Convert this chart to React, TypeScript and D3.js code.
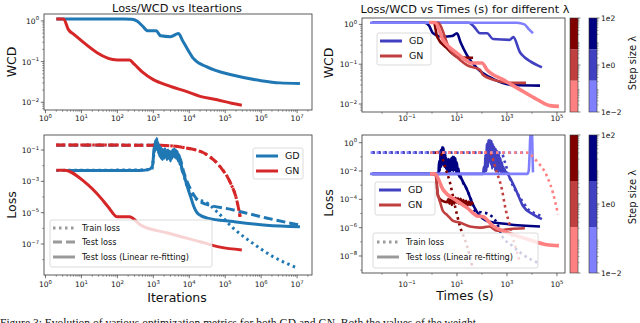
import React from 'react';
import * as d3 from 'd3';

type Pt = [number, number];

const FONT = 'DejaVu Sans, Verdana, sans-serif';

// ---------- left column: Loss/WCD vs iterations ----------
const gdWcdIter: Pt[] = [[2, 1.12], [150, 1.12], [250, 1.1], [350, 1.0], [500, 0.75], [700, 0.57], [1200, 0.57], [1600, 0.43], [3000, 0.41], [5000, 0.49], [6500, 0.33], [9000, 0.2], [13000, 0.12], [30000, 0.075], [1.7e5, 0.046], [1e6, 0.034], [3.3e6, 0.03], [1.2e7, 0.029]];
const gnWcdIter: Pt[] = [[2, 1.12], [3.2, 1.12], [4.3, 0.62], [6.3, 0.46], [100, 0.11], [215, 0.11], [300, 0.085], [500, 0.055], [1000, 0.036], [2500, 0.026], [9000, 0.018], [20000, 0.014], [60000, 0.0115], [1.5e5, 0.0095], [2.9e5, 0.0085]];

const gdRefitIter: Pt[] = [[3.4, 0.005], [450, 0.005], [800, 0.006], [950, 0.01],
  [1000, 0.03], [1050, 0.15], [1100, 0.08], [1150, 0.4], [1200, 0.12], [1250, 0.55], [1300, 0.1], [1350, 0.3], [1400, 0.06], [1450, 0.2], [1500, 0.04], [1580, 0.15], [1650, 0.03], [1730, 0.12], [1800, 0.025], [1900, 0.1], [2000, 0.03], [2100, 0.12], [2200, 0.04], [2300, 0.09], [2400, 0.025], [2550, 0.1], [2700, 0.03], [2850, 0.08], [3000, 0.02], [3150, 0.06], [3300, 0.03], [3450, 0.1], [3600, 0.04], [3800, 0.11], [4000, 0.035], [4200, 0.1], [4400, 0.03], [4650, 0.08], [4900, 0.02], [5200, 0.05], [5500, 0.012], [5800, 0.02],
  [6200, 0.006], [7000, 0.003], [8000, 0.001], [9000, 4e-4], [11000, 1e-4], [13000, 3e-5], [18000, 8e-6], [32000, 4.5e-6], [1.7e5, 2.7e-6], [1.4e6, 1.6e-6], [1.2e7, 1.25e-6]];
const gdTestIter: Pt[] = [[2, 0.2], [1000, 0.2], [1300, 0.3], [1600, 0.1], [2500, 0.08], [4000, 0.07], [5500, 0.03], [7000, 0.004], [9000, 8e-4], [13000, 1.5e-4], [20000, 5e-5], [1.7e5, 1.5e-5], [1.4e6, 4.6e-6], [1.2e7, 1.6e-6]];
const gdTrainIter: Pt[] = [[2, 0.005], [900, 0.0055], [1100, 0.1], [1500, 0.08], [3000, 0.05], [5000, 0.04], [6500, 0.005], [9000, 4e-4], [13000, 1e-4], [32000, 4e-5], [59000, 1.15e-5], [1.7e5, 1e-6], [5.9e5, 1.1e-7], [2.1e6, 1.6e-8], [1e7, 3e-9]];
const gnTestIter: Pt[] = [[2, 0.21], [1600, 0.2], [9000, 0.13], [32000, 0.048], [72000, 0.0087], [1.4e5, 8e-4], [2.1e5, 6.3e-5], [2.6e5, 5.5e-6]];
const gnTrainIter: Pt[] = [[2, 0.21], [1600, 0.2], [9000, 0.13], [32000, 0.048], [72000, 0.0087], [1.4e5, 8e-4], [2.1e5, 6.3e-5], [2.6e5, 5.5e-6]];
const gnRefitIter: Pt[] = [[2, 0.0052], [3.4, 0.0052], [12, 9.5e-4], [35, 8.5e-5], [55, 2.4e-5], [100, 5.5e-6], [215, 5.5e-6], [450, 1.6e-6], [2500, 5e-7], [20000, 1.4e-7], [72000, 6.3e-8], [2.9e5, 4.2e-8]];

// ---------- right column: Loss/WCD vs time, three step sizes ----------
const gdWcdTime1e2: Pt[] = [[0.004, 1.1], [0.5, 1.1], [0.75, 0.95], [1.1, 0.6], [2.75, 0.49], [6.3, 0.51], [10, 0.6], [14, 0.35], [25, 0.17], [63, 0.08], [275, 0.043], [1700, 0.03], [2.1e4, 0.029]];
const gdWcdTime1: Pt[] = [[0.004, 1.1], [30, 1.1], [50, 0.85], [83, 0.6], [160, 0.6], [275, 0.43], [1300, 0.41], [1800, 0.48], [3300, 0.2], [5000, 0.15], [8300, 0.12], [2.5e4, 0.083]];
const gdWcdTime1e_2: Pt[] = [[0.0033, 1.1], [2500, 1.1], [5000, 1.0], [7000, 0.8], [1.1e4, 0.6]];
const gnWcdTime1e2: Pt[] = [[1, 1.1], [1.2, 1.1], [1.6, 0.49], [4, 0.25], [10, 0.155], [17, 0.148], [44, 0.145]];
const gnWcdTime1: Pt[] = [[1.3, 1.1], [1.7, 1.1], [5.2, 0.23], [13, 0.13], [25, 0.095], [83, 0.072], [110, 0.054], [525, 0.037], [1300, 0.034], [5800, 0.034]];
const gnWcdTime1e_2: Pt[] = [[0.76, 1.12], [1.3, 1.12], [2.75, 0.41], [10, 0.19], [27, 0.117], [35, 0.107], [100, 0.107], [160, 0.072], [700, 0.041], [3300, 0.023], [1.6e4, 0.013], [5.2e4, 0.0091], [1.2e5, 0.0087]];

const gdRefitTime1e2: Pt[] = [[0.004, 0.0063], [1.8, 0.0063],
  [1.93, 0.05], [2.07, 0.01], [2.2, 0.3], [2.37, 0.02], [2.54, 0.5], [2.72, 0.03], [2.9, 0.45], [3.1, 0.02], [3.33, 0.2], [3.57, 0.015], [3.82, 0.08], [4.1, 0.01], [4.4, 0.05], [4.7, 0.008], [5.0, 0.06], [5.4, 0.01], [5.8, 0.08], [6.2, 0.012], [6.6, 0.1], [7.1, 0.01], [7.6, 0.1], [8.1, 0.012], [8.7, 0.08], [9.3, 0.008], [10, 0.04], [10.7, 0.006], [11.5, 0.015], [12.3, 0.004], [13.2, 0.005],
  [15, 0.003], [18, 0.0015], [22, 8e-4], [25, 5e-4], [40, 6e-5], [63, 1.3e-5], [160, 3e-6], [1000, 1.8e-6], [2.1e4, 1.2e-6]];
const gdTrainTime1e2: Pt[] = [[0.004, 0.2], [1.8, 0.2], [2.5, 0.4], [3.5, 0.1], [5, 0.06], [8, 0.05], [11, 0.01], [16, 0.002], [25, 5e-4], [40, 6e-5], [52, 1.5e-5], [100, 1.2e-5], [160, 1e-5], [400, 2e-6], [630, 2.7e-7], [1700, 5e-8], [4000, 1.4e-8], [2.1e4, 2.8e-9]];
const gdRefitTime1: Pt[] = [[0.004, 0.0063], [110, 0.0063],
  [120, 0.02], [129, 0.008], [138, 0.15], [148, 0.01], [158, 0.8], [170, 0.02], [182, 1.5], [195, 0.05], [209, 1.6], [224, 0.03], [240, 1.3], [257, 0.015], [275, 0.8], [295, 0.02], [316, 0.5], [339, 0.01], [363, 0.35], [389, 0.012], [417, 0.25], [447, 0.008], [479, 0.15], [513, 0.01], [550, 0.08], [589, 0.007], [631, 0.04], [676, 0.008], [724, 0.02], [776, 0.0065], [832, 0.012], [891, 0.0065], [955, 0.008],
  [1300, 0.0034], [2500, 3.2e-4], [4400, 3.4e-5], [1.1e4, 8.7e-6], [2.5e4, 4e-6]];
const gdTrainTime1: Pt[] = [[0.004, 0.2], [600, 0.2], [800, 0.05], [1300, 3e-3], [2750, 2.2e-4], [5100, 4.4e-5], [6900, 2e-5], [1.7e4, 8.7e-6], [2.5e4, 6e-6]];
const gdRefitTime1e_2: Pt[] = [[0.0033, 0.0063], [6600, 0.0063], [7400, 0.01], [8100, 0.2], [8700, 5], [10000, 5], [10600, 0.1], [11000, 0.008]];
const gdTrainTime1e_2: Pt[] = [[0.0035, 0.2], [6300, 0.2]];
const gnRefitTime1e2: Pt[] = [[1, 0.0063], [1.4, 0.0063], [1.74, 1.7e-4], [2.5, 8e-5], [4, 6.3e-5], [4.5, 1e-4], [5, 5e-5], [5.6, 1.2e-4], [6.2, 4e-5], [7, 1e-4], [7.8, 5e-5], [8.7, 1.3e-4], [9.7, 6e-5], [11, 1.2e-4], [12, 5e-5], [14, 1.1e-4], [16, 4.5e-5], [18, 9e-5], [20, 4e-5], [23, 8e-5], [26, 3.5e-5], [30, 7e-5], [34, 4e-5], [38, 6e-5], [44, 4.5e-5]];
const gnTrainTime1e2: Pt[] = [[1.3, 0.2], [2.3, 0.17], [2.75, 0.06], [3.3, 0.021], [5.2, 1.6e-3], [8.3, 3.4e-5], [13, 1.35e-6], [25, 5.4e-8], [40, 2.1e-9]];
const gnRefitTime1: Pt[] = [[1.1, 0.0063], [1.4, 0.0063], [1.6, 5e-4], [2.2, 5e-5], [2.75, 1.5e-5], [4, 8e-6], [7, 3e-6], [13, 2.3e-6], [33, 1.2e-6], [83, 1e-6], [200, 1.2e-6], [400, 6e-7], [1300, 8e-7], [5200, 9e-7]];
const gnTrainTime1: Pt[] = [[1.5, 0.2], [200, 0.2], [400, 7.2e-3], [630, 5e-4], [830, 3.4e-5], [1300, 1.35e-6], [2100, 5.4e-8], [3300, 3.7e-9]];
const gnRefitTime1e_2: Pt[] = [[0.83, 0.0063], [1.3, 0.0063], [2.75, 5e-4], [10, 7.6e-5], [25, 2.6e-5], [63, 6.8e-6], [110, 6e-6], [275, 1.35e-6], [1000, 4.6e-7], [6300, 1.6e-7], [4e4, 6.3e-8], [1.2e5, 5.4e-8]];
const gnTrainTime1e_2: Pt[] = [[0.83, 0.2], [6300, 0.2], [1.6e4, 0.047], [4e4, 4.3e-3], [6.9e4, 2.9e-4], [1.1e5, 8.7e-6]];

const stepTicks = [1e-2, 1, 1e2];
const stepTickLabels = ['1e−2', '1e0', '1e2'];

const C_GD = '#1f77b4';
const C_GN = '#d62728';
const GD_LAM = ['#000080', '#4040c0', '#8080ff'];
const GN_LAM = ['#800000', '#c04040', '#ff8080'];
const DOT = '2.5,3.5';
const DASH = '9,4';

interface Series { data: Pt[]; color: string; width: number; dash?: string }
interface Box { l: number; r: number; t: number; b: number }

const expText = (e: number) => (e < 0 ? `−${-e}` : `${e}`);

function PowLabel({ x, y, e, anchor }: { x: number; y: number; e: number; anchor: string }) {
  return (
    <text x={x} y={y} textAnchor={anchor} fontSize={7.5} fontFamily={FONT} fill="#111">
      10<tspan dy={-3.5} fontSize={5.3}>{expText(e)}</tspan>
    </text>
  );
}

function decades(dom: [number, number]) {
  return d3.range(Math.ceil(Math.log10(dom[0]) - 1e-9), Math.floor(Math.log10(dom[1]) + 1e-9) + 1);
}
function subTicks(dom: [number, number]) {
  const out: number[] = [];
  for (let k = Math.floor(Math.log10(dom[0])); k <= Math.ceil(Math.log10(dom[1])); k++) {
    for (let m = 2; m <= 9; m++) {
      const v = m * Math.pow(10, k);
      if (v > dom[0] && v < dom[1]) out.push(v);
    }
  }
  return out;
}

function Panel({ id, box, xDomain, yDomain, xLabels, yLabels, xMinor, yMinor, series, xLabelY }: {
  id: string; box: Box; xDomain: [number, number]; yDomain: [number, number];
  xLabels: number[]; yLabels: number[]; xMinor: boolean; yMinor: boolean; series: Series[]; xLabelY: number;
}) {
  const xs = d3.scaleLog().domain(xDomain).range([box.l, box.r]);
  const ys = d3.scaleLog().domain(yDomain).range([box.b, box.t]);
  const line = d3.line<Pt>().x(d => xs(d[0])).y(d => ys(d[1])).curve(d3.curveMonotoneX);
  const xDec = decades(xDomain);
  const yDec = decades(yDomain);
  return (
    <g>
      <defs>
        <clipPath id={id}><rect x={box.l} y={box.t} width={box.r - box.l} height={box.b - box.t} /></clipPath>
      </defs>
      <g clipPath={`url(#${id})`}>
        {series.map((s, i) => (
          <path key={i} d={line(s.data) || ''} fill="none" stroke={s.color} strokeWidth={s.width}
            strokeDasharray={s.dash} strokeLinejoin="round" />
        ))}
      </g>
      <rect x={box.l} y={box.t} width={box.r - box.l} height={box.b - box.t} fill="none" stroke="#333" strokeWidth={0.8} />
      {xMinor && subTicks(xDomain).map((v, i) => (
        <line key={'xm' + i} x1={xs(v)} x2={xs(v)} y1={box.b} y2={box.b + 1.8} stroke="#333" strokeWidth={0.5} />
      ))}
      {yMinor && subTicks(yDomain).map((v, i) => (
        <line key={'ym' + i} y1={ys(v)} y2={ys(v)} x1={box.l} x2={box.l - 1.8} stroke="#333" strokeWidth={0.5} />
      ))}
      {xDec.map(e => {
        const lab = xLabels.includes(e);
        const x = xs(Math.pow(10, e));
        return (
          <g key={'x' + e}>
            <line x1={x} x2={x} y1={box.b} y2={box.b + (lab ? 3.2 : 1.8)} stroke="#333" strokeWidth={lab ? 0.7 : 0.5} />
            {lab && <PowLabel x={x} y={xLabelY} e={e} anchor="middle" />}
          </g>
        );
      })}
      {yDec.map(e => {
        const lab = yLabels.includes(e);
        const y = ys(Math.pow(10, e));
        return (
          <g key={'y' + e}>
            <line y1={y} y2={y} x1={box.l} x2={box.l - (lab ? 3.2 : 1.8)} stroke="#333" strokeWidth={lab ? 0.7 : 0.5} />
            {lab && <PowLabel x={box.l - 5} y={y + 3} e={e} anchor="end" />}
          </g>
        );
      })}
    </g>
  );
}

function Colorbar({ x, t, b, colors, labels }: { x: number; t: number; b: number; colors: string[]; labels: boolean }) {
  const cs = d3.scaleLog().domain([1e-2, 1e2]).range([b, t]);
  const seg = (b - t) / colors.length;
  return (
    <g>
      {colors.map((c, i) => (
        <rect key={i} x={x} y={b - seg * (i + 1)} width={8} height={seg} fill={c} />
      ))}
      <rect x={x} y={t} width={8} height={b - t} fill="none" stroke="#333" strokeWidth={0.6} />
      {subTicks([1e-2, 1e2]).map((v, i) => (
        <line key={i} x1={x + 8} x2={x + 9.5} y1={cs(v)} y2={cs(v)} stroke="#333" strokeWidth={0.4} />
      ))}
      {stepTicks.map((v, i) => (
        <g key={'m' + i}>
          <line x1={x + 8} x2={x + 10.5} y1={cs(v)} y2={cs(v)} stroke="#333" strokeWidth={0.6} />
          {labels && (
            <text x={x + 12} y={cs(v) + 2.7} fontSize={7.5} fontFamily={FONT} fill="#111">{stepTickLabels[i]}</text>
          )}
        </g>
      ))}
    </g>
  );
}

function LegendBox({ x, y, w, h }: { x: number; y: number; w: number; h: number }) {
  return <rect x={x} y={y} width={w} height={h} rx={2} fill="#fff" fillOpacity={0.8} stroke="#ccc" strokeWidth={0.7} />;
}

function LegendRow({ x, y, color, dash, label, fs, len }: { x: number; y: number; color: string; dash?: string; label: string; fs: number; len: number }) {
  return (
    <g>
      <line x1={x} x2={x + len} y1={y} y2={y} stroke={color} strokeWidth={3} strokeDasharray={dash} />
      <text x={x + len + 7} y={y + fs * 0.36} fontSize={fs} fontFamily={FONT} fill="#111">{label}</text>
    </g>
  );
}

export default function App() {
  const L = { l: 44, r: 312 };
  const R = { l: 362, r: 565 };
  const xIter: [number, number] = [0.91, 2.6e7];
  const xTime: [number, number] = [1.58e-3, 2.1e5];

  return (
    <svg width={640} height={323} style={{ position: 'fixed', left: 0, top: 0, background: '#fff' }}>
      <rect width={640} height={323} fill="#fff" />
      {/* titles */}
      <text x={177} y={12} textAnchor="middle" fontSize={11.3} fontFamily={FONT} fill="#111">Loss/WCD vs Iteartions</text>
      <text x={465} y={13} textAnchor="middle" fontSize={11.3} fontFamily={FONT} fill="#111">Loss/WCD vs Times (s) for different λ</text>

      {/* left top */}
      <Panel id="c1" box={{ ...L, t: 14, b: 110 }} xDomain={xIter} yDomain={[0.00646, 1.48]}
        xLabels={[0, 1, 2, 3, 4, 5, 6, 7]} yLabels={[0, -1, -2]} xMinor yMinor xLabelY={121}
        series={[
          { data: gdWcdIter, color: C_GD, width: 3 },
          { data: gnWcdIter, color: C_GN, width: 3 },
        ]} />
      <text transform="translate(16,62) rotate(-90)" textAnchor="middle" fontSize={12.5} fontFamily={FONT} fill="#111">WCD</text>

      {/* left bottom */}
      <Panel id="c2" box={{ ...L, t: 135, b: 275 }} xDomain={xIter} yDomain={[1.05e-9, 0.91]}
        xLabels={[0, 1, 2, 3, 4, 5, 6, 7]} yLabels={[-1, -3, -5, -7]} xMinor yMinor={false} xLabelY={287}
        series={[
          { data: gdTrainIter, color: C_GD, width: 3, dash: DOT },
          { data: gdTestIter, color: C_GD, width: 3, dash: DASH },
          { data: gnTrainIter, color: C_GN, width: 3, dash: DOT },
          { data: gnTestIter, color: C_GN, width: 3, dash: DASH },
          { data: gdRefitIter, color: C_GD, width: 3 },
          { data: gnRefitIter, color: C_GN, width: 3 },
        ]} />
      <text transform="translate(16,205) rotate(-90)" textAnchor="middle" fontSize={12.5} fontFamily={FONT} fill="#111">Loss</text>
      <text x={177} y={302} textAnchor="middle" fontSize={12.5} fontFamily={FONT} fill="#111">Iterations</text>
      <LegendBox x={253} y={148} w={50} h={31} />
      <LegendRow x={256} y={156} color={C_GD} label="GD" fs={9.5} len={22} />
      <LegendRow x={256} y={171} color={C_GN} label="GN" fs={9.5} len={22} />
      <LegendBox x={50} y={220} w={162} h={47} />
      <LegendRow x={53} y={228} color="#9a9a9a" dash={DOT} label="Train loss" fs={8.2} len={22} />
      <LegendRow x={53} y={242} color="#9a9a9a" dash={DASH} label="Test loss" fs={8.2} len={22} />
      <LegendRow x={53} y={257} color="#9a9a9a" label="Test loss (Linear re-fitting)" fs={8.2} len={22} />

      {/* right top */}
      <Panel id="c3" box={{ ...R, t: 18, b: 112 }} xDomain={xTime} yDomain={[6.3e-3, 1.45]}
        xLabels={[-1, 1, 3, 5]} yLabels={[0, -1, -2]} xMinor={false} yMinor xLabelY={121}
        series={[
          { data: gdWcdTime1e2, color: GD_LAM[0], width: 2.6 },
          { data: gdWcdTime1, color: GD_LAM[1], width: 2.6 },
          { data: gdWcdTime1e_2, color: GD_LAM[2], width: 2.6 },
          { data: gnWcdTime1e2, color: GN_LAM[0], width: 2.6 },
          { data: gnWcdTime1, color: GN_LAM[1], width: 2.6 },
          { data: gnWcdTime1e_2, color: GN_LAM[2], width: 3.6 },
        ]} />
      <text transform="translate(333,63) rotate(-90)" textAnchor="middle" fontSize={12.5} fontFamily={FONT} fill="#111">WCD</text>
      <LegendBox x={377} y={33} w={54} h={32} />
      <LegendRow x={380} y={41} color={GD_LAM[1]} label="GD" fs={9.5} len={22} />
      <LegendRow x={380} y={56} color={GN_LAM[1]} label="GN" fs={9.5} len={22} />

      {/* right bottom */}
      <Panel id="c4" box={{ ...R, t: 135, b: 273 }} xDomain={xTime} yDomain={[6.3e-10, 3.5]}
        xLabels={[-1, 1, 3, 5]} yLabels={[0, -2, -4, -6, -8]} xMinor={false} yMinor={false} xLabelY={287}
        series={[
          { data: gdTrainTime1e2, color: GD_LAM[0], width: 2.6, dash: DOT },
          { data: gdRefitTime1e2, color: GD_LAM[0], width: 2.6 },
          { data: gdTrainTime1, color: GD_LAM[1], width: 2.6, dash: DOT },
          { data: gdRefitTime1, color: GD_LAM[1], width: 2.6 },
          { data: gdTrainTime1e_2, color: GD_LAM[2], width: 2.6, dash: DOT },
          { data: gdRefitTime1e_2, color: GD_LAM[2], width: 2.6 },
          { data: gnTrainTime1e2, color: GN_LAM[0], width: 2.6, dash: DOT },
          { data: gnRefitTime1e2, color: GN_LAM[0], width: 2.6 },
          { data: gnTrainTime1, color: GN_LAM[1], width: 2.6, dash: DOT },
          { data: gnRefitTime1, color: GN_LAM[1], width: 2.6 },
          { data: gnTrainTime1e_2, color: GN_LAM[2], width: 2.6, dash: DOT },
          { data: gnRefitTime1e_2, color: GN_LAM[2], width: 3.6 },
        ]} />
      <text transform="translate(333,203) rotate(-90)" textAnchor="middle" fontSize={12.5} fontFamily={FONT} fill="#111">Loss</text>
      <text x={465} y={300} textAnchor="middle" fontSize={12.5} fontFamily={FONT} fill="#111">Times (s)</text>
      <LegendBox x={375} y={182} w={60} h={33} />
      <LegendRow x={379} y={190} color={GD_LAM[1]} label="GD" fs={9.5} len={22} />
      <LegendRow x={379} y={205} color={GN_LAM[1]} label="GN" fs={9.5} len={22} />
      <LegendBox x={373} y={233} w={165} h={35} />
      <LegendRow x={377} y={242} color="#9a9a9a" dash={DOT} label="Train loss" fs={8.2} len={22} />
      <LegendRow x={377} y={257} color="#9a9a9a" label="Test loss (Linear re-fitting)" fs={8.2} len={22} />

      {/* colorbars */}
      <Colorbar x={570} t={18} b={112} colors={[GN_LAM[2], GN_LAM[1], GN_LAM[0]]} labels={false} />
      <Colorbar x={589} t={18} b={112} colors={[GD_LAM[2], GD_LAM[1], GD_LAM[0]]} labels />
      <Colorbar x={570} t={135} b={273} colors={[GN_LAM[2], GN_LAM[1], GN_LAM[0]]} labels={false} />
      <Colorbar x={589} t={135} b={273} colors={[GD_LAM[2], GD_LAM[1], GD_LAM[0]]} labels />
      <text transform="translate(636,63) rotate(-90)" textAnchor="middle" fontSize={10} fontFamily={FONT} fill="#111">Step size λ</text>
      <text transform="translate(636,197) rotate(-90)" textAnchor="middle" fontSize={10} fontFamily={FONT} fill="#111">Step size λ</text>

      {/* caption, cut off by the bottom edge */}
      <text x={0} y={326.5} fontSize={11.5} fontFamily="Liberation Serif, 'Times New Roman', serif" fill="#111">
        Figure 3: Evolution of various optimization metrics for both GD and GN. Both the values of the weight
      </text>
    </svg>
  );
}
